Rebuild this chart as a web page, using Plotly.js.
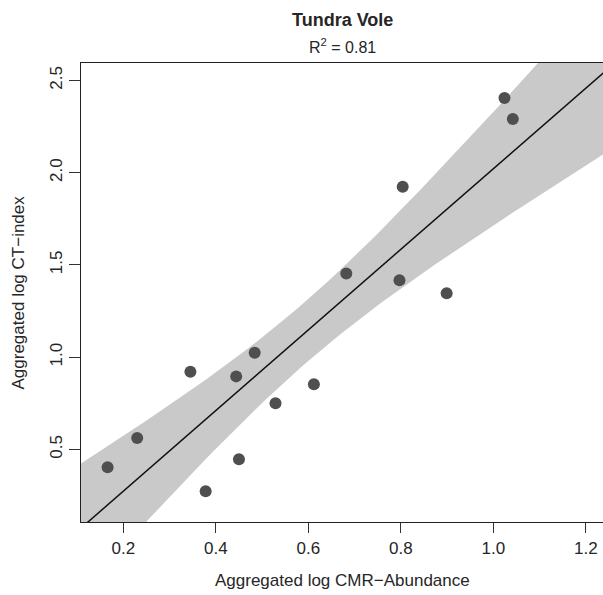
<!DOCTYPE html>
<html>
<head>
<meta charset="utf-8">
<script src="https://cdn.plot.ly/plotly-3.0.1.min.js"></script>
<style>html,body{margin:0;padding:0;background:#fff;}#chart{width:603px;height:595px;}</style>
</head>
<body>
<div id="chart"></div>
<script>
// Data
const cmrAbundance = [0.166, 0.230, 0.345, 0.378, 0.444, 0.450, 0.484, 0.529, 0.612, 0.682, 0.797, 0.804, 0.899, 1.024, 1.042];
const ctIndex      = [0.404, 0.562, 0.921, 0.274, 0.896, 0.447, 1.024, 0.750, 0.853, 1.453, 1.417, 1.924, 1.347, 2.404, 2.290];
const xTickVals = [0.2, 0.4, 0.6, 0.8, 1.0, 1.2];
const xTickText = ["0.2", "0.4", "0.6", "0.8", "1.0", "1.2"];
const yTickVals = [0.5, 1.0, 1.5, 2.0, 2.5];
const yTickText = ["0.5", "1.0", "1.5", "2.0", "2.5"];
const chartTitle = "Tundra Vole";
const r2Label = "0.81";
const xTitle = "Aggregated log CMR\u2212Abundance";
const yTitle = "Aggregated log CT\u2212index";

const xRange = [0.1085, 1.237];
const yRange = [0.107, 2.594];

// Linear model fit (as lm) with 95% confidence band of the mean
function fitLine(xs, ys) {
  const n = xs.length;
  const mx = xs.reduce((a, b) => a + b, 0) / n;
  const my = ys.reduce((a, b) => a + b, 0) / n;
  let sxx = 0, sxy = 0;
  for (let i = 0; i < n; i++) { sxx += (xs[i] - mx) ** 2; sxy += (xs[i] - mx) * (ys[i] - my); }
  const b = sxy / sxx, a = my - b * mx;
  let sse = 0;
  for (let i = 0; i < n; i++) sse += (ys[i] - a - b * xs[i]) ** 2;
  const s = Math.sqrt(sse / (n - 2));
  return {a, b, s, n, mx, sxx};
}
const fit = fitLine(cmrAbundance, ctIndex);
const tCrit = 2.1604; // qt(0.975, 13)
const steps = 80;
const gx = [];
for (let i = 0; i <= steps; i++) gx.push(xRange[0] - 0.05 + (xRange[1] - xRange[0] + 0.1) * i / steps);
const pred = gx.map(x => fit.a + fit.b * x);
const hw = gx.map(x => tCrit * fit.s * Math.sqrt(1 / fit.n + (x - fit.mx) ** 2 / fit.sxx));
const upper = pred.map((p, i) => p + hw[i]);
const lower = pred.map((p, i) => p - hw[i]);

const bandX = gx.concat(gx.slice().reverse());
const bandY = upper.concat(lower.slice().reverse());

const FONT = "Liberation Sans, Arial, Helvetica, sans-serif";
const TXT = "#262626";

const traces = [
  {x: bandX, y: bandY, type: "scatter", mode: "lines", fill: "toself",
   fillcolor: "#c9c9c9", line: {width: 0, color: "#c9c9c9"}, hoverinfo: "skip", showlegend: false},
  {x: [gx[0], gx[gx.length - 1]], y: [pred[0], pred[pred.length - 1]], type: "scatter", mode: "lines",
   line: {color: "#111111", width: 1.5}, showlegend: false},
  {x: cmrAbundance, y: ctIndex, type: "scatter", mode: "markers",
   marker: {color: "#4f4f4f", size: 12}, cliponaxis: true, showlegend: false}
];

const layout = {
  width: 603, height: 595,
  margin: {l: 81, r: 0, t: 63, b: 73, pad: 0},
  paper_bgcolor: "#ffffff", plot_bgcolor: "#ffffff",
  font: {family: FONT, size: 17, color: TXT},
  showlegend: false,
  xaxis: {
    range: xRange, showgrid: false, zeroline: false,
    showline: true, linecolor: "#222222", linewidth: 1.2, mirror: true,
    ticks: "outside", ticklen: 10, tickwidth: 1, tickcolor: "#333333",
    tickvals: xTickVals, ticktext: xTickText,
    tickfont: {family: FONT, size: 17, color: TXT}
  },
  yaxis: {
    range: yRange, showgrid: false, zeroline: false,
    showline: true, linecolor: "#222222", linewidth: 1.2,
    ticks: "outside", ticklen: 11, tickwidth: 1, tickcolor: "#333333",
    tickvals: yTickVals, ticktext: yTickText, tickangle: -90,
    tickfont: {family: FONT, size: 17, color: TXT}
  },
  annotations: [
    {text: "<b>" + chartTitle + "</b>", xref: "paper", yref: "paper", x: 0.5, y: (522 - 20) / 459,
     xanchor: "center", yanchor: "middle", showarrow: false, font: {family: FONT, size: 18, color: TXT}},
    {text: "R<sup>2</sup> = " + r2Label, xref: "paper", yref: "paper", x: 0.5, y: (522 - 46) / 459,
     xanchor: "center", yanchor: "middle", showarrow: false, font: {family: FONT, size: 16, color: TXT}},
    {text: xTitle, xref: "paper", yref: "paper", x: 0.5, y: (522 - 580) / 459,
     xanchor: "center", yanchor: "middle", showarrow: false, font: {family: FONT, size: 17, color: TXT}},
    {text: yTitle, xref: "paper", yref: "paper", x: (18 - 81) / 522, y: 0.5, textangle: -90,
     xanchor: "center", yanchor: "middle", showarrow: false, font: {family: FONT, size: 17, color: TXT}}
  ]
};

Plotly.newPlot("chart", traces, layout, {displayModeBar: false, staticPlot: true});
</script>
</body>
</html>
